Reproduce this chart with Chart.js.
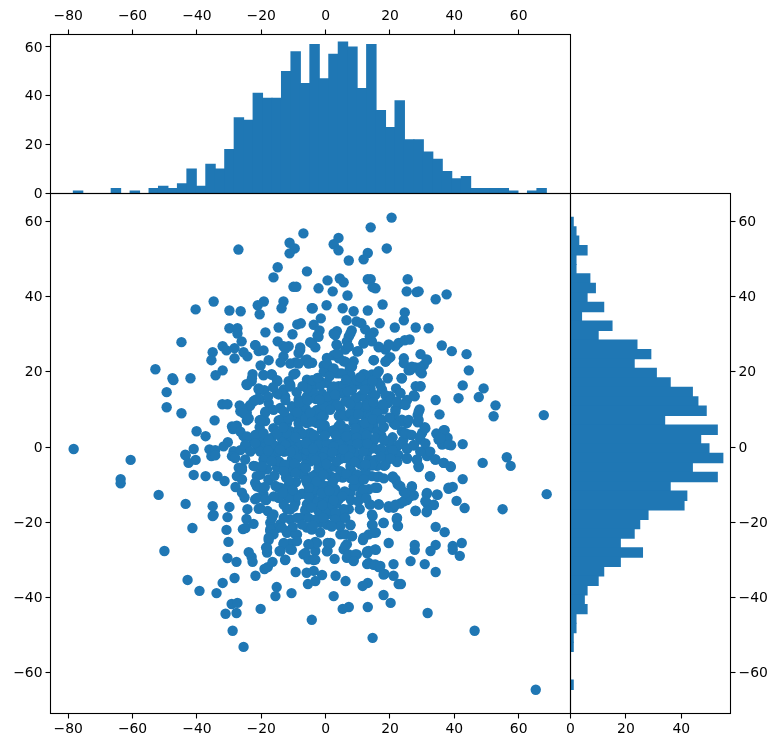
<!DOCTYPE html>
<html><head><meta charset="utf-8">
<script src="https://cdn.jsdelivr.net/npm/chart.js@4"></script>
<style>html,body{margin:0;padding:0;background:#fff;width:779px;height:747px;overflow:hidden}canvas{position:absolute;left:0;top:0}</style>
</head><body>
<canvas id="top" width="779" height="747"></canvas>
<canvas id="right" width="779" height="747"></canvas>
<canvas id="main" width="779" height="747"></canvas>
<script>
const xTicks=[-80,-60,-40,-20,0,20,40,60];
const yTicks=[-60,-40,-20,0,20,40,60];
const countTicksTop=[0,20,40,60];
const countTicksRight=[0,20,40];
const xBinCenters=[-76.93,-73.99,-71.05,-68.11,-65.17,-62.23,-59.29,-56.35,-53.41,-50.47,-47.53,-44.59,-41.65,-38.71,-35.77,-32.83,-29.89,-26.95,-24.01,-21.07,-18.13,-15.19,-12.25,-9.31,-6.37,-3.43,-0.49,2.45,5.39,8.33,11.27,14.21,17.15,20.09,23.03,25.97,28.91,31.85,34.79,37.73,40.67,43.61,46.55,49.49,52.43,55.37,58.31,61.25,64.19,67.13];
const xBinCounts=[1,0,0,0,2,0,1,0,2,3,2,4,10,3,12,10,18,31,30,41,39,39,50,58,45,61,47,57,62,60,43,61,34,27,38,22,22,17,14,9,6,7,2,2,2,2,1,0,1,2];
const yBinCenters=[59.85,57.34,54.83,52.32,49.81,47.30,44.79,42.28,39.77,37.26,34.75,32.24,29.73,27.22,24.71,22.20,19.69,17.18,14.67,12.16,9.65,7.14,4.63,2.12,-0.39,-2.90,-5.41,-7.92,-10.43,-12.94,-15.45,-17.96,-20.47,-22.98,-25.49,-28.00,-30.51,-33.02,-35.53,-38.04,-40.55,-43.06,-45.57,-48.08,-50.59,-53.10,-55.61,-58.12,-60.63,-63.14];
const yBinCounts=[1,2,3,6,2,2,7,9,6,12,4,15,10,24,29,23,31,36,44,46,49,34,53,47,50,55,44,53,36,42,41,28,25,23,18,26,18,12,10,6,5,6,2,2,1,1,0,0,0,1];
const scatterPoints=[
[-6.9,56.8],[-11.2,54.3],[-9.6,52.8],[-11.2,51.5],[-27.1,52.5],[-14.9,47.8],[-16.2,45.1],[-5.8,46.7],[-10,42.6],[-9.1,42.6],[-19.2,38.7],[-21.1,37.7],[-20.5,35.3],[-13.1,38.7],[-13.7,36.9],[-4.3,36.9],[-34.8,38.7],[-40.4,36.6],[-29.9,36.3],[-26.4,36.1],[-29.9,31.6],[-27.4,31.6],[-27.4,30.2],[-18.7,30.5],[-14.6,31.8],[-8.8,32.6],[-7.7,32.9],[-10.3,30],[-26.1,28.1],[-14.9,28.1],[-44.8,27.9],[-32,26.8],[-30.8,25.7],[-28.3,26.3],[-35.1,25.2],[-35.5,23.1],[-28.3,23.6],[-25.5,25.2],[-24.3,24.1],[-21.8,27.1],[-20.8,25.5],[-19.3,25.7],[-17.7,23.1],[-20.2,21.7],[-13.1,26.8],[-11.5,26.8],[-7.9,26.5],[-4.8,27.9],[-13.1,24.1],[-14,22.5],[-9.4,22.5],[-5.8,23.3],[-8.4,25],[-32,20.4],[-34.2,19.1],[-52.9,20.7],[-47.6,18.3],[-47.3,17.8],[-42,18.3],[-49.4,14.6],[-49.4,10.6],[-44.8,9],[-22.7,19.4],[-19.3,19.1],[-16.8,19.4],[-15,17.5],[-24.6,16.7],[-23,17.5],[-20.8,15.3],[-19,15.1],[-10,19.3],[-11.5,17.5],[-13,15.3],[-14.6,14],[-12.6,13.5],[-9,14.6],[-8.4,12.6],[-11,16.6],[-5.8,13.5],[-5.8,17.9],[-32.1,11.4],[-30.5,11.4],[-26.7,11.1],[-20.5,12.6],[-22.4,12.2],[-23.6,10.9],[-26.5,9.5],[-24.5,9.1],[-17.7,11.7],[-14.1,10.4],[-10.5,10.9],[-6.3,10.4],[-18.8,9.1],[-24.5,7.1],[-34.5,7.1],[-20.5,7.1],[-18.8,6.9],[-20.5,5.3],[-14.6,7.1],[-12,6.4],[-10,8.2],[-7.4,8.2],[-11,4.2],[-8.4,4.7],[-5.8,6.4],[-29.1,5.5],[-27.6,5.7],[-28.8,4.8],[-25.5,2.9],[-40.1,4.2],[-37.3,2.9],[-30.4,1.3],[-31.7,0.2],[-41,-0.5],[-36.1,-0.6],[-34.3,-0.8],[-43.6,-2],[-78.3,-0.5],[-28.6,-1.1],[-24.5,-0.2],[-22.4,1.6],[-20.3,2],[-18.8,0.7],[-20.8,-0.6],[-15.1,0.2],[-9.4,0.7],[-11.5,1.1],[-16.7,2.5],[-6.8,3.3],[-5.3,1.6],[-13,-1.1],[-7.4,-1.1],
[20.5,61],[14,58.4],[4,55.6],[2.5,53.9],[4,52.3],[19,52.8],[13.1,51.6],[11.8,49.9],[7.2,49.6],[0.6,44.3],[4.4,44.8],[5.6,43.8],[-2.2,42.2],[2.2,41.4],[6.8,40.3],[13.1,44.6],[14,44.6],[14.6,42.5],[15.5,42.2],[25.5,44.6],[25.2,41.4],[28.3,41.2],[28.9,41.4],[37.6,40.6],[34.2,39.3],[17.7,37.9],[0.3,37.7],[-4,36.9],[5.3,36.9],[8.7,36.1],[13.1,36.3],[24.6,35.8],[24.3,33.7],[16.8,32.9],[-1.5,34.2],[6.5,33.7],[9.6,33.4],[11.1,32.9],[-3.7,32.5],[21.5,31.8],[28,31.8],[32,31.6],[-1.9,31],[-2.5,29.7],[2.5,30.2],[3.5,30.8],[8.1,31],[12.3,31.3],[14.9,30.5],[7.2,29.4],[6.6,28.1],[11.8,27.6],[14.4,28.1],[13.7,29.4],[3.4,27.3],[-3.2,26.5],[19.6,27.3],[16.5,26.5],[18.6,25.9],[21.7,26.8],[22.7,27.7],[24.6,28.4],[26.1,28.6],[36.1,27],[39.2,25.5],[43.8,24.7],[44.5,20.4],[42.6,16.4],[49.1,15.6],[47.6,13.3],[41.3,13],[52.8,11.1],[52.2,8.2],[67.8,8.5],[34.2,12.5],[35.4,8.7],[42.6,0.8],[37,4.5],[34.4,3.6],[35.1,2],[37.9,2.5],[39,0.5],[36.2,0.7],[29.5,24.7],[31.4,23.3],[30.5,21.8],[24.3,23.6],[24.3,22.3],[25.8,20.4],[27.9,21.2],[29.2,21.2],[29.9,19.6],[23.6,18.3],[14.9,23.1],[20.1,23.9],[18.7,22.8],[10.1,25.5],[8.7,22.8],[7.5,21],[6.1,25.9],[4,24.1],[5.6,22.8],[2.5,24.4],[0.4,23.7],[-0.6,21.7],[-4.2,22.4],[1.5,21],[4.4,19.6],[11.8,19.4],[16.5,20.2],[19.3,18.3],[14.4,19.3],[7.7,18.4],[16,17.5],[12.3,17.1],[9.7,16.6],[-1.7,17.5],[-3.7,17.1],[0.4,17.1],[4,16.2],[7.7,15.3],[17.5,15.3],[13.9,15.3],[21.9,15.6],[23.2,14.4],[27.7,13.5],[28,16.2],[29.5,16.2],[20.1,13.5],[25.3,12.5],[22.7,11.3],[19.3,11.7],[18,10],[21.7,10],[14.4,13.5],[10.8,13.5],[6.6,12.6],[3,13.1],[-1.1,11.7],[-4.2,14.4],[4.6,10],[8.7,10.9],[12.9,10],[29.2,10],[28.6,8.5],[23.7,7.3],[25.3,6.4],[21.1,6.4],[28.6,6.6],[30.8,5.3],[30,3.8],[26.1,3.3],[23.7,4.2],[18,5.3],[14.9,6],[12.3,8.2],[13.4,4.7],[8.7,6.4],[10.3,6],[6.6,8.2],[4,5.5],[-0.6,8.2],[-2.7,6.4],[1.5,4.2],[-4.8,3.8],[-1.1,4.7],[8.2,3.3],[5.6,2],[1.5,0.7],[-2.7,1.6],[11.3,1.6],[14.9,1.6],[19.6,1.3],[22.2,0.2],[25.3,-0.5],[27.4,0.4],[29.4,2],[31,-0.6],[16.5,-0.8],[8.2,-0.6],[4,-1.1],[-1.7,-1.1],[12.3,-1.1],
[-60.6,-3.4],[-63.7,-8.5],[-63.7,-9.6],[-51.9,-12.7],[-43.5,-15.1],[-35.1,-15.7],[-34.8,-18],[-35.1,-18.3],[-29.9,-15.9],[-30.5,-18.6],[-41.4,-21.5],[-30.8,-22],[-25.7,-21.8],[-24.9,-21.5],[-30.2,-25.2],[-50.1,-27.6],[-30.5,-29.5],[-27.7,-30.5],[-23.9,-27.9],[-23,-29.2],[-22.7,-30.5],[-28.3,-34.8],[-32,-36.1],[-42.9,-35.3],[-39.2,-38.2],[-33.9,-38.8],[-21.8,-34.2],[-19,-32.4],[-18,-31.9],[-16.5,-30.5],[-12.6,-30],[-9.3,-33.2],[-5.9,-33.4],[-5.5,-36.4],[-15.2,-37.2],[-15.6,-39.6],[-10.6,-38.8],[-29.2,-41.7],[-27.4,-41.4],[-31.1,-44.3],[-27.7,-44.1],[-20.2,-43],[-28.9,-48.8],[-25.5,-53.1],[-4.3,-45.9],[-42.6,-4.2],[-40.4,-3.4],[-43.5,-2.2],[-41,-7.4],[-37.3,-7.7],[-33.6,-7.7],[-31.4,-9],[-35.5,-2.4],[-28,-10.6],[-26,-12.1],[-25.2,-13.4],[-24.3,-16.5],[-24.6,-19.1],[-22.4,-20.4],[-27.6,-7.7],[-26,-8.6],[-26,-5.5],[-29.1,-2.4],[-22.4,-5],[-18.2,-5.9],[-21.4,-7.7],[-17.7,-8.8],[-21.4,-10.4],[-19.3,-12.6],[-21.9,-13.9],[-18.5,-14.1],[-20.8,-16.4],[-18,-17],[-16.7,-18.8],[-17.2,-22.3],[-14.1,-20.5],[-12.2,-22.3],[-8.9,-23.2],[-17.7,-24.7],[-13.1,-25.8],[-11,-25.6],[-18.5,-26.7],[-18.2,-28],[-14.3,-27.6],[-10.5,-27.3],[-6.9,-28.5],[-5.3,-29.8],[-14.6,-10.8],[-11.5,-10.3],[-8.9,-12.8],[-14.6,-13.4],[-12,-13],[-9.4,-14.8],[-12,-16.5],[-6.3,-17],[-11,-19.2],[-7.9,-18.8],[-5.8,-21.4],[-5.8,-15.2],[-5.3,-25.8],[-15.1,-5.5],[-11,-6.8],[-8.4,-5.5],[-5.8,-9.5],[-19.3,-3.3],[-15.7,-2.4],[-10.5,-3.3],[-6.3,-2.8],[-34.3,-2.2],
[48.8,-4.2],[56.3,-2.7],[57.5,-5],[68.7,-12.5],[55,-16.5],[42.6,-8.5],[39.5,-10.6],[38.2,-11.1],[40.7,-14.3],[43.2,-16.2],[38.9,-5.3],[36.7,-4.2],[34.1,-3.3],[31.5,-2.4],[28.9,-5.3],[28.4,-3.4],[25.3,-3.1],[22.2,-4],[18.6,-2.8],[18.2,-5],[32.4,-7.7],[20.8,-8],[22.4,-9.9],[24.3,-11.9],[26.8,-10.6],[27.4,-12.8],[31.4,-12.5],[34.8,-12.7],[31.4,-14.8],[33.6,-15.4],[31.4,-17.3],[28,-17],[25.3,-14.1],[23.2,-15],[21.1,-16.1],[19.6,-16.1],[16.5,-15.2],[13.7,-15.2],[10.6,-16.5],[14.6,-18.3],[14.6,-20.7],[18,-20.2],[22.1,-19.1],[22.4,-21],[34.2,-21.2],[37,-22.6],[42.3,-25.5],[39.5,-26.3],[39.5,-27.3],[41.7,-28.9],[34.2,-26],[32.6,-27.6],[27.7,-26],[27.7,-27.3],[19.6,-25.5],[15.6,-22.7],[13.4,-23.2],[11.6,-24.7],[26.4,-30.3],[30.8,-31.1],[34.2,-33.2],[21.1,-31.1],[18.3,-33.7],[21.1,-34.2],[22.7,-36.4],[23.4,-36.4],[16.5,-31.9],[14.9,-31.3],[12.9,-31.1],[15.6,-27.3],[13.4,-27.6],[12.9,-28.2],[9.7,-28.5],[8.2,-28.9],[8.7,-30],[6.6,-29.4],[5.6,-27.2],[6.6,-25.8],[8.2,-23.6],[2.8,-29.7],[0.6,-27.6],[0.6,-25.5],[-3.2,-25.2],[-3.2,-27.6],[-3.7,-30],[-3.7,-32.9],[-1.1,-34],[-3.2,-35.6],[3.1,-34.2],[6.2,-35.6],[13.1,-36.1],[11.5,-36.9],[2.5,-39.6],[18,-39.3],[20.2,-41.4],[7.2,-42.5],[5.3,-43],[13.1,-42.5],[31.7,-44.1],[46.3,-48.8],[14.6,-50.7],[65.3,-64.5],
[-2.2,-2.4],[1.5,-2.8],[5.6,-2.4],[10.3,-2.8],[13.4,-3.3],[16,-5],[14.4,-4.9],[10.8,-4.6],[7.7,-5],[5.1,-6.8],[-1.1,-5.5],[-3.2,-7.3],[1.5,-7.7],[10.8,-8.1],[16,-7.9],[14.4,-7.7],[16,-10.8],[13.4,-11.2],[8.7,-10.4],[10.8,-12.6],[7.7,-12.1],[3,-11.2],[-2.2,-10.8],[0.4,-10.4],[-3.7,-12.1],[1.5,-13.4],[-3.2,-15.7],[0.9,-15.7],[5.6,-16.5],[7.2,-16.5],[0.4,-17.9],[2.5,-18.3],[5.1,-18.8],[-2.2,-19.6],[0.4,-20.5],[4,-20.5],[7.7,-20.8],[-1.7,-22.7],[4.6,-23.2],[-4.3,-21.9],[4,-13],
[-3.5,9.3],[-1.2,2.1],[0.8,-0.4],[2.9,1.2],[4.6,-3.1],[6.7,0.4],[9.1,-1.4],[11.2,4.1],[13.3,-0.9],[15.4,-3.4],[-4.7,-3.8],[-6.8,-0.3],[-8.9,-2.9],[-10.7,1.9],[-12.8,-1.2],[-2.1,-4.6],[0.6,-6.3],[2.8,-5.2],[5.3,-8.1],[7.9,-6.2],[10.2,-9.7],[12.4,-6.4],[-1.9,-8.8],[-4.3,-9.9],[-6.9,-7.2],[-9.2,-9.3],[-12.3,-8.1],[-14.4,-3.9],[-16.6,-1.8],[-3.2,7.1],[-0.4,10.4],[1.8,11.9],[4.1,8.3],[6.2,4.9],[8.8,8.4],[10.9,10.6],[12.7,12.4],[15.8,8.9],[17.3,3.1],[19.1,-1.2],[20.8,2.6],[22.6,-2.1],[24.1,1.8],[-3.8,15.9],[-1.1,14.2],[1.9,15.3],[5.1,14.6],[8.3,17.4],[-7.3,-12.4],[-4.9,-13.6],[-2.6,-14.4],[0.7,-12.1],[3.3,-15.1],[5.9,-11.8],
[-13.6,14.3],[-11,16.1],[-9.4,19.6],[-12.5,12.5],[-15.1,14.3],[-10,10.3],[-6.8,10.7],[-14.1,7.2],[-11.5,7.6],[-8.4,6.3],[-6.3,7.6],[-2.7,9.9],[-0.6,11.2],[-4.2,6.8],[-1.1,8.1],[-3.7,14.3],[-1.6,16.5],[-5.8,15.6],[-4.2,17.8],[-0.6,20],[0.4,22.2],[-6.3,23.1],[-7.9,25.8],[-5.3,22.2],[-11,22.2],[-12.5,26.2],[-4.2,27.6],[-2.2,29.3],[-8.4,22.2],[-21.9,27.1],[-22.9,18.3],[-24.4,16.5],[-20.8,15.6],[-16.7,19.2],[-19.3,19.2],[-15.1,17.8],[-20.8,13],[-23.4,11.2],[-26,10.3],[-25.5,9],[-21.9,12.5],[-18.7,9.4],[-20.3,7.2],[-23.9,7.6],[-28.1,5.4],[-26.5,4.1],[-24.4,2.8],[-21.9,3.2],[-19.3,3.7],[-16.2,5],[-13.6,2.3],[-10.5,2.8],[-7.4,3.7],[-21.9,1],[-18.7,0.1],[-16.2,0.6],[-12.5,0.6],[-25,0.6],[-26.5,-0.8],[-23.4,-1.2],[-20.3,-1.2],[-14.6,-1.2],[-7.9,0.6],[-1.1,4.5],[-2.2,0.6],[0.4,1],[-0.1,-1.2],[-5.8,-0.8],[-9.9,-0.8],
[3.5,19.6],[5.6,16.5],[7.7,19.2],[9.8,17.8],[12.3,19.2],[16,19.6],[17,16.5],[13.9,15.6],[11.3,13.8],[8.2,15.2],[4.6,14.3],[2.5,16.1],[6.1,12.1],[3.5,11.2],[9.8,11.2],[12.9,11.2],[15.4,13.8],[15.4,10.3],[18.6,13.8],[20.1,12.5],[23.2,14.3],[22.2,12.1],[21.7,9.4],[24.8,11.2],[27.4,13.8],[29.4,16.1],[23.7,18.3],[26.3,20.5],[29.4,20],[31.5,23.1],[26.8,21.4],[7.2,26.7],[9.8,25.4],[6.1,22.7],[4.1,23.6],[2.5,20.9],[5.1,19.6],[8.2,21.4],[15,23.1],[19.6,23.6],[18.6,22.7],[11.8,27.6],[16.5,26.7],[19.6,27.1],[3.5,27.1],[3,29.8],[7.7,30.2],[13.9,29.3],[5.6,8.5],[7.7,9],[8.7,7.2],[13.9,8.1],[16,9],[13.4,5.4],[16,4.1],[18,5.4],[21.2,7.6],[23.2,6.8],[25.8,7.2],[21.7,5.9],[24.8,3.7],[26.8,3.2],[28.9,9.4],[28.9,7.2],[31,5],[29.4,2.8],[4.6,3.7],[4.1,1],[7.7,1.9],[9.2,5],[11.3,0.6],[14.4,1.9],[15,-0.3],[19.6,1.5],[22.7,0.6],[25.3,-0.3],[27.4,0.6],[31,1],[2.5,0.1],[7.7,-0.8],[11.8,-1.2],[2.5,4.5],[36.7,4.5],[35.7,2.4],[38.3,0.6],[32.5,-1.2],[29.4,-1.2],[3.5,24.9],
[-2.2,-5.5],[-6.3,-4.7],[-4.2,-7.8],[-7.3,-7.3],[-10.5,-5.5],[-1.1,-10],[-3.7,-11.3],[-5.3,-13.1],[-0.6,-13.9],[-2.2,-17],[0.4,-17],[-6.3,-16.6],[-8.9,-13.1],[-11.5,-13.5],[-13,-15.3],[-11,-16.6],[-8.9,-18.8],[-5.3,-18.8],[-1.6,-20.1],[-3.2,-19.3],[0.4,-20.6],[-13,-18.8],[-16.2,-17.9],[-17.2,-20.1],[-15.1,-21.5],[-17.2,-21.9],[-16.2,-23.2],[-12,-22.8],[-9.4,-23.2],[-8.9,-25],[-13,-25.5],[-17.7,-24.1],[-18.2,-26.8],[-2.7,-25.5],[-5.3,-25.9],[-6.3,-28.1],[-3.2,-29.9],[-12.5,-29.9],[-14.1,-27.7],[-11,-27.2],[0.4,-27.7],[-27,-5.5],[-21.9,-5.1],[-20.3,-7.3],[-21.9,-9.5],[-17.7,-8.6],[-20.3,-10.8],[-21.3,-13.5],[-18.7,-13.9],[-20.3,-16.2],[-14.1,-10.8],[-12,-10.8],[-14.6,-13.5],[-18.7,-2.9],[-14.6,-3.8],[-25,-3.3],[-28.1,-2.9],[-26,-6],[-8.9,-2.9],[-3.7,-2.4],[-0.6,-4.2],[-16.7,-18.8],
[3.5,-3.8],[6.1,-2.9],[4.6,-6.4],[3,-8.2],[7.7,-8.2],[9.8,-7.3],[11.8,-5.1],[14.4,-4.7],[10.3,-10],[9.2,-10.4],[11.8,-11.3],[15.4,-10.8],[16.5,-7.8],[2.5,-11.7],[4.1,-13.9],[2,-15.3],[5.6,-16.6],[3,-17.5],[3,-19.3],[6.1,-18.8],[7.7,-20.6],[4.6,-21],[6.1,-23.2],[8.2,-23.7],[11.8,-24.1],[15,-22.8],[14.4,-17.9],[14.4,-20.6],[18,-20.1],[13.9,-15.3],[16.5,-15.3],[19.6,-15.7],[21.7,-15.3],[24.3,-14.4],[26.3,-13.1],[26.8,-10.4],[23.2,-10.4],[21.7,-8.6],[20.9,-7.8],[24.8,-12.2],[18.6,-4.7],[22.2,-3.8],[25.3,-2.9],[28.9,-5.1],[28.4,-3.3],[34.1,-3.3],[36.7,-4.2],[38.8,-5.1],[32.5,-7.8],[31.5,-12.2],[34.6,-12.6],[33.6,-15.3],[31.5,-17],[31,-14.4],[27.9,-16.9],[38.2,-10.8],[22.2,-18.8],[22.5,-21],[6.1,-26.3],[7.2,-28.5],[9.2,-28.5],[8.7,-30.3],[12.9,-27.7],[15.4,-27.2],[13.4,-30.8],[15.4,-31.2],[17,-31.6],[18,-33.9],[1.5,-25.5],
[-2.5,18.4],[1.2,18.8],[6.4,17.9],[10.7,18.6],[14.6,17.6],[-7.2,16.2],[-3.1,12.8],[0.6,13.4],[2.9,13.9],[6.9,14.8],[9.3,13.1],[12.1,15.2],[14.9,11.9],[17.8,11.4],[-8.2,11.8],[-5.6,12.4],[-1.9,12.6],[1.4,9.9],[4.6,6.1],[-4.8,9.2],[-8.9,9.3],[-12.9,9.4],[-1.6,6.1],[-0.3,5.8],[10.2,8.7],[12.2,6.4],[14.7,7.4],[17.4,7.3],[19.8,7.8],[7.6,11.4],
[-3.6,3.2],[-0.2,3.1],[3.2,3.1],[6.4,2.9],[9.6,2.5],[12.8,3.2],[15.6,2.4],[18.1,1.9],[-6.1,1.1],[-9.3,2.6],[-12.2,3.7],[-15.1,3.6],[-17.6,1.9],[-3.9,-0.4],[-0.9,-2.8],[2.1,-1.4],[5.5,-0.6],[9.9,0.9],[12.9,0.9],[17.2,-0.4],[20.9,-0.8],[-10.9,-1.3],[-14.2,-0.6],[-17.9,-0.9],
[-6.1,-5.6],[-3.2,-3.4],[0.2,-4.5],[7.3,-2.6],[9.1,-3.9],[12.4,-4.6],[17.1,-2.6],[20.1,-3.1],[-12.7,-4.7],[-9.7,-4.4],[-16.8,-3.8],[-19.8,-5.1],[-13.1,-6.4],[-9.3,-6.9],[-6.1,-8.8],[-2.8,-9.1],[-0.7,-7.4],[2.2,-9.4],[6.4,-7.1],[8.8,-8.7],[11.9,-8.6],[18.1,-8.3],[-11.4,-8.9],[-15.9,-7.6],[-15.6,-10.3],[-18.9,-10.6],
[-10.2,-11.4],[-5.2,-10.8],[-1.2,-12.2],[1.1,-11.6],[5.2,-13.1],[7.9,-14.1],[10.1,-14.4],[12.6,-13.6],[-13.3,-12.1],[-16.1,-13.1],[-9.9,-15.9],[-4.4,-16.1],[-0.9,-15.4],[2.5,-14.1],[-7.3,-20.6],[-3.9,-20.9],[-0.7,-18.8],[1.9,-21.1],[-10.2,-21.2],[-13.6,-21.4],[-16.3,15.9],[-17.9,13.4],[-16.2,9.9],[-13.2,5.2]
];
const BLUE='#1f77b4';
const FONT={family:'"DejaVu Sans"',size:13.9};
const fmt=v=>String(v).replace('-','\u2212');
const frame={id:'frame',afterDatasetsDraw(c){const a=c.chartArea,x=c.ctx;x.save();x.strokeStyle='#000';x.lineWidth=1.1;x.strokeRect(a.left,a.top,a.right-a.left,a.bottom-a.top);x.restore();}};
function axis(min,max,ticks,position,size,pad){return{type:'linear',min,max,position,offset:false,
  grid:{offset:false,drawOnChartArea:false,drawTicks:true,tickLength:5,tickColor:'#000',tickWidth:1.1},border:{display:false},
  ticks:{color:'#000',font:FONT,padding:pad===undefined?3:pad,autoSkip:false,maxRotation:0,callback:fmt,labelOffset:(position==='left'||position==='right')?1:0},
  afterBuildTicks(s){s.ticks=ticks.map(v=>({value:v}));},
  afterFit(s){if(s.isHorizontal())s.height=size;else s.width=size;}};}
const common={responsive:false,animation:false,devicePixelRatio:1,plugins:{legend:{display:false},tooltip:{enabled:false}}};
const XMIN=-85.5,XMAX=76.1,YMIN=-70.8,YMAX=67.4;
new Chart(document.getElementById('top'),{type:'bar',plugins:[frame],
 data:{datasets:[{data:xBinCenters.map((x,i)=>({x,y:xBinCounts[i]})),backgroundColor:BLUE,borderWidth:0,barPercentage:1,categoryPercentage:1,inflateAmount:0.5}]},
 options:{...common,layout:{padding:{left:0,top:0,right:208.5,bottom:553.5}},
  scales:{x:axis(XMIN,XMAX,xTicks,'top',34.5,5),y:{...axis(0,65.1,countTicksTop,'left',50.5),beginAtZero:true}}}});
new Chart(document.getElementById('right'),{type:'bar',plugins:[frame],
 data:{datasets:[{data:yBinCenters.map((y,i)=>({x:yBinCounts[i],y})),backgroundColor:BLUE,borderWidth:0,barPercentage:1,categoryPercentage:1,inflateAmount:0.5}]},
 options:{...common,indexAxis:'y',layout:{padding:{left:570.5,top:193.5,right:0,bottom:0}},
  scales:{x:axis(0,57.75,countTicksRight,'bottom',33.5),y:axis(YMIN,YMAX,yTicks,'right',48.5)}}});
new Chart(document.getElementById('main'),{type:'scatter',plugins:[frame],
 data:{datasets:[{data:scatterPoints.map(p=>({x:p[0],y:p[1]})),backgroundColor:BLUE,borderWidth:0,pointRadius:5.2,pointHoverRadius:5.2}]},
 options:{...common,layout:{padding:{left:0,top:193.5,right:208.5,bottom:0}},
  scales:{x:axis(XMIN,XMAX,xTicks,'bottom',33.5),y:axis(YMIN,YMAX,yTicks,'left',50.5)}}});
</script>
</body></html>
